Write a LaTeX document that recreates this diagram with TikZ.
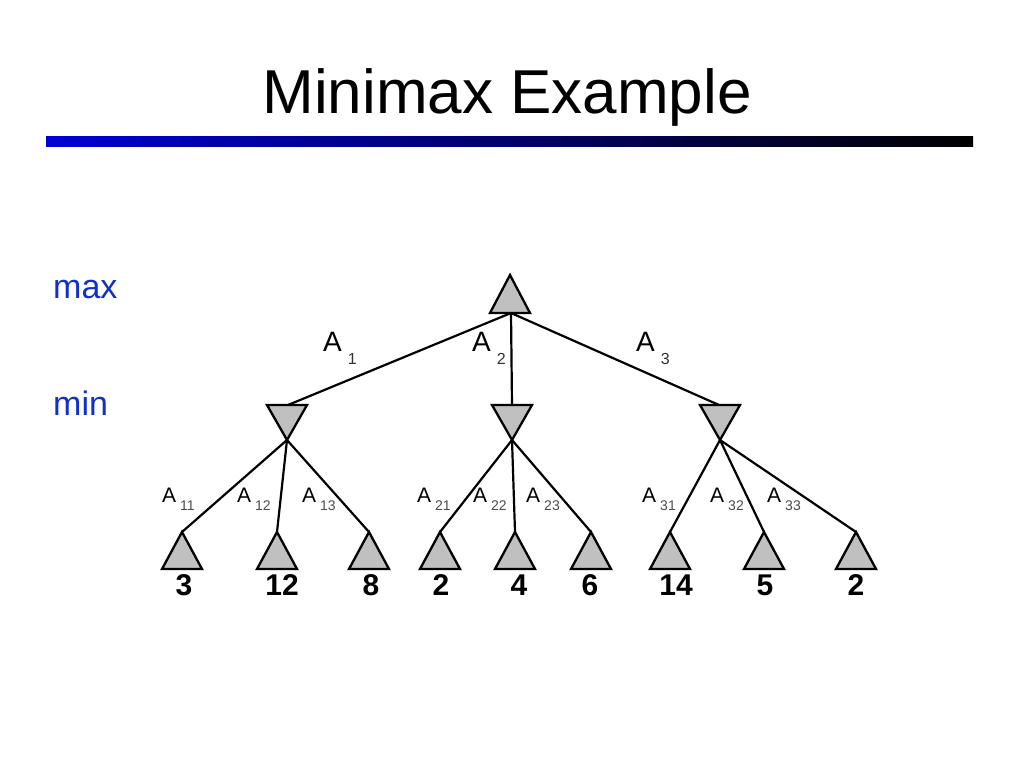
\documentclass[tikz,border=0pt]{standalone}
\usepackage{fontspec}
\setmainfont{Liberation Sans}
\definecolor{trifill}{RGB}{192,192,192}
\definecolor{labblue}{RGB}{16,48,200}
\definecolor{barblue}{RGB}{0,0,210}
\definecolor{barmid}{RGB}{0,0,160}
\newcommand{\fs}[1]{\fontsize{#1}{#1}\selectfont}
\newcommand{\lbA}[1]{A\hspace{6pt}\raisebox{-13pt}{\fs{16}\color{black!80}#1}}
\newcommand{\lbB}[1]{A\hspace{4pt}\raisebox{-8pt}{\fs{14}\color{black!70}#1}}
\begin{document}
\begin{tikzpicture}[x=1pt,y=-1pt,
  tri/.style={draw=black,fill=trifill,line width=2.3pt,line join=miter},
  edge/.style={draw=black,line width=2.2pt},
  toplab/.style={anchor=base west,inner sep=0pt,font=\fs{28}},
  sublab/.style={anchor=base west,inner sep=0pt,font=\fs{21}},
  leafval/.style={anchor=base,inner sep=0pt,font=\fs{30}\bfseries},
  sidelab/.style={anchor=base west,inner sep=0pt,font=\fs{34},text=labblue}]
\useasboundingbox (0,0) rectangle (1024,768);
\fill[white] (0,0) rectangle (1024,768);
% title
\node[anchor=base,inner sep=0pt,font=\fs{62}] (title) at (507,113) {Minimax Example};
\shade[left color=barblue,middle color=barmid,right color=black] (46,136) rectangle (973,146);
% side labels
\node[sidelab] (maxlab) at (53,298) {max};
\node[sidelab] (minlab) at (53,415) {min};
% root (max)
\coordinate (r) at (510,275);
\coordinate (rb) at (511,313);
% min nodes: top centre and apex
\coordinate (m1t) at (288,405); \coordinate (m1) at (287,440);
\coordinate (m2t) at (512,405); \coordinate (m2) at (512,440);
\coordinate (m3t) at (719,405); \coordinate (m3) at (720,440);
% leaves apex
\foreach \n/\x in {1/182,2/277,3/369,4/440,5/515,6/591,7/670,8/764,9/856}{
  \coordinate (l\n) at (\x,532);
}
% edges
\draw[edge] (rb) -- (m1t);
\draw[edge] (rb) -- (m2t);
\draw[edge] (rb) -- (m3t);
\draw[edge] (m1) -- (l1); \draw[edge] (m1) -- (l2); \draw[edge] (m1) -- (l3);
\draw[edge] (m2) -- (l4); \draw[edge] (m2) -- (l5); \draw[edge] (m2) -- (l6);
\draw[edge] (m3) -- (l7); \draw[edge] (m3) -- (l8); \draw[edge] (m3) -- (l9);
% triangles
\draw[tri] (r) -- ++(20,38) -- ++(-40,0) -- cycle;
\foreach \m in {m1,m2,m3}{
  \draw[tri] (\m) -- ++(20,-35) -- ++(-40,0) -- cycle;
}
\foreach \n in {1,...,9}{
  \draw[tri] (l\n) -- ++(20,37) -- ++(-40,0) -- cycle;
}
% leaf values
\node[leafval] (v1) at (184,595) {3};
\node[leafval] (v2) at (282,595) {12};
\node[leafval] (v3) at (371,595) {8};
\node[leafval] (v4) at (441,595) {2};
\node[leafval] (v5) at (519,595) {4};
\node[leafval] (v6) at (590,595) {6};
\node[leafval] (v7) at (676,595) {14};
\node[leafval] (v8) at (765,595) {5};
\node[leafval] (v9) at (856,595) {2};
% top-level action labels
\node[toplab] (a1) at (323,351) {\lbA{1}};
\node[toplab] (a2) at (472,351) {\lbA{2}};
\node[toplab] (a3) at (636,351) {\lbA{3}};
% second-level action labels
\node[sublab] (a11) at (162,502) {\lbB{11}};
\node[sublab] (a12) at (237,502) {\lbB{12}};
\node[sublab] (a13) at (302,502) {\lbB{13}};
\node[sublab] (a21) at (417,502) {\lbB{21}};
\node[sublab] (a22) at (473,502) {\lbB{22}};
\node[sublab] (a23) at (526,502) {\lbB{23}};
\node[sublab] (a31) at (642,502) {\lbB{31}};
\node[sublab] (a32) at (710,502) {\lbB{32}};
\node[sublab] (a33) at (767,502) {\lbB{33}};
\end{tikzpicture}
\end{document}
